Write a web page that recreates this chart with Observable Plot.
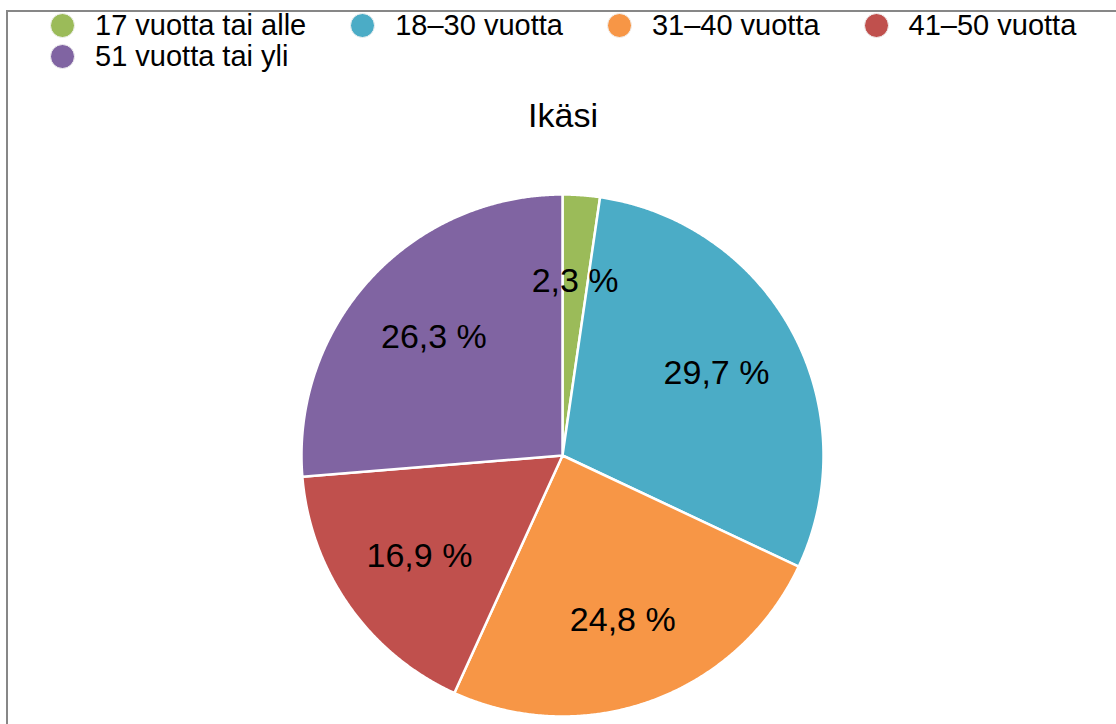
<!DOCTYPE html>
<html>
<head>
<meta charset="utf-8">
<script src="https://cdn.jsdelivr.net/npm/d3@7"></script>
<script src="https://cdn.jsdelivr.net/npm/@observablehq/plot@0.6"></script>
<style>
  html, body { margin: 0; padding: 0; width: 1116px; height: 724px; overflow: hidden; background: #fff; font-family: Arial, "Liberation Sans", sans-serif; }
  #frame { position: absolute; left: 6px; top: 10px; width: 1300px; height: 900px; border-left: 2px solid #878787; border-top: 2px solid #878787; }
  #legend { position: absolute; left: 50px; top: 10px; width: 1060px; display: flex; flex-wrap: wrap; column-gap: 44px; font-size: 29px; color: #000; }
  .item { display: inline-flex; align-items: center; height: 31px; white-space: nowrap; }
  .sw { width: 23px; height: 23px; border-radius: 50%; border: 1px solid #f2f2f2; margin-right: 20px; box-sizing: content-box; }
  #title { position: absolute; left: 0; top: 96px; width: 1126px; text-align: center; font-size: 34px; color: #000; }
  #chart { position: absolute; left: 0; top: 140px; }
</style>
</head>
<body>
<div id="frame"></div>
<div id="legend"></div>
<div id="title">Ikäsi</div>
<div id="chart"></div>
<script>
const categories = ["17 vuotta tai alle", "18–30 vuotta", "31–40 vuotta", "41–50 vuotta", "51 vuotta tai yli"];
const values = [2.3, 29.7, 24.8, 16.9, 26.3];
const labels = ["2,3 %", "29,7 %", "24,8 %", "16,9 %", "26,3 %"];
const colors = ["#9BBB59", "#4BACC6", "#F79646", "#C0504D", "#8064A2"];
const titleText = "Ikäsi";

document.getElementById("title").textContent = titleText;

// Legend
const legend = document.getElementById("legend");
categories.forEach((c, i) => {
  const item = document.createElement("div");
  item.className = "item";
  const sw = document.createElement("span");
  sw.className = "sw";
  sw.style.background = colors[i];
  const t = document.createElement("span");
  t.textContent = c;
  item.appendChild(sw);
  item.appendChild(t);
  legend.appendChild(item);
});

// Pie geometry from data
const arcs = d3.pie().sort(null).value(d => d.value)(categories.map((c, i) => ({category: c, value: values[i], label: labels[i]})));

const slicePoints = [];
const labelPoints = [];
for (const a of arcs) {
  const cat = a.data.category;
  slicePoints.push({category: cat, x: 0, y: 0});
  const n = Math.max(2, Math.ceil((a.endAngle - a.startAngle) / 0.005));
  for (let k = 0; k <= n; k++) {
    const t = a.startAngle + (a.endAngle - a.startAngle) * k / n;
    slicePoints.push({category: cat, x: Math.sin(t), y: Math.cos(t)});
  }
  slicePoints.push({category: cat, x: 0, y: 0});
  const m = (a.startAngle + a.endAngle) / 2;
  labelPoints.push({category: cat, label: a.data.label, x: 0.67 * Math.sin(m), y: 0.67 * Math.cos(m)});
}

const chart = Plot.plot({
  width: 1116,
  height: 584,
  margin: 0,
  x: {domain: [-1, 1], range: [301, 823], axis: null},
  y: {domain: [-1, 1], range: [576, 54], axis: null},
  color: {domain: categories, range: colors},
  style: {fontFamily: "Arial, 'Liberation Sans', sans-serif", background: "transparent"},
  marks: [
    Plot.line(slicePoints, {x: "x", y: "y", z: "category", fill: "category", stroke: "white", strokeWidth: 2.5, strokeLinejoin: "round", curve: "linear"}),
    Plot.text(labelPoints, {x: "x", y: "y", text: "label", fontSize: 34, fill: "black"})
  ]
});
document.getElementById("chart").appendChild(chart);
</script>
</body>
</html>
